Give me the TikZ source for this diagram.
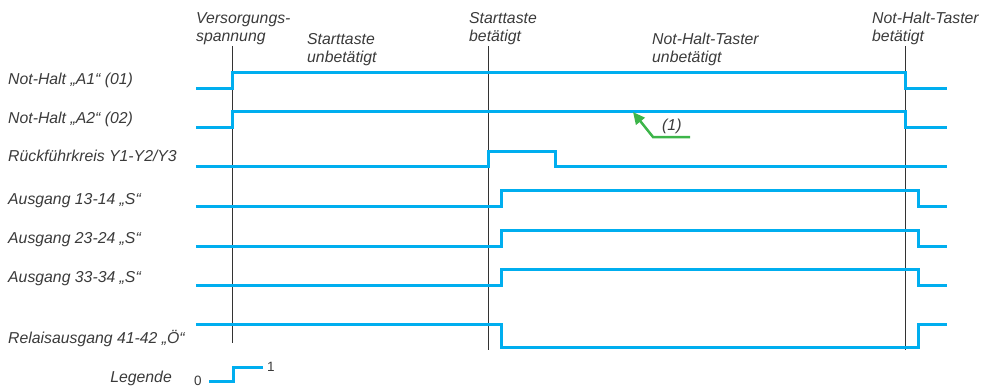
\documentclass[tikz,border=0pt]{standalone}
\usepackage{fontspec}
\setmainfont{Liberation Sans}
\usepackage{xcolor}
\usepackage{tikz}
\usetikzlibrary{arrows.meta}

\definecolor{sigblue}{HTML}{00AEEF}
\definecolor{notegreen}{HTML}{3DB54A}
\definecolor{txtgray}{HTML}{3A3A3A}

\begin{document}
\begin{tikzpicture}[x=1pt,y=-1pt,line join=miter,
    signal/.style={draw=sigblue,line width=3pt},
    marker/.style={draw=black!80,line width=0.8pt},
    pointer/.style={draw=notegreen,line width=2.5pt,-{Triangle[length=12pt,width=11pt]}},
    lbl/.style={font=\fontsize{15.8}{18}\selectfont\itshape,text=txtgray,inner sep=0pt,anchor=base west,align=left},
    digit/.style={font=\fontsize{13.5}{15}\selectfont,text=txtgray,inner sep=0pt}]
  \useasboundingbox (0,0) rectangle (982,389);
  % time markers
  \draw[marker] (232,46) -- (232,343);
  \draw[marker] (488,46) -- (488,350);
  \draw[marker] (905,46) -- (905,350);
  % phase labels (base = last line)
  \node[lbl] (supply) at (196,41) {Versorgungs-\\spannung};
  \node[lbl] (startoff) at (307,62) {Starttaste\\unbetätigt};
  \node[lbl] (starton) at (469,41) {Starttaste\\betätigt};
  \node[lbl] (stopoff) at (652,62) {Not-Halt-Taster\\unbetätigt};
  \node[lbl] (stopon) at (872,41) {Not-Halt-Taster\\betätigt};
  % signal names
  \node[lbl] (a1) at (8,84) {Not-Halt „A1“ (01)};
  \node[lbl] (a2) at (8,123) {Not-Halt „A2“ (02)};
  \node[lbl] (fb) at (8,161) {Rückführkreis Y1-Y2/Y3};
  \node[lbl] (out1) at (8,204) {Ausgang 13-14 „S“};
  \node[lbl] (out2) at (8,243) {Ausgang 23-24 „S“};
  \node[lbl] (out3) at (8,282) {Ausgang 33-34 „S“};
  \node[lbl] (relay) at (8,343) {Relaisausgang 41-42 „Ö“};
  % signals
  \draw[signal] (196,88) -- (232,88) -- (232,72) -- (905,72) -- (905,88) -- (947,88);
  \draw[signal] (196,127) -- (232,127) -- (232,111) -- (905,111) -- (905,127) -- (947,127);
  \draw[signal] (196,166) -- (488,166) -- (488,151) -- (555,151) -- (555,166) -- (947,166);
  \draw[signal] (196,206) -- (501,206) -- (501,190) -- (918,190) -- (918,206) -- (947,206);
  \draw[signal] (196,246) -- (501,246) -- (501,230) -- (918,230) -- (918,246) -- (947,246);
  \draw[signal] (196,285) -- (501,285) -- (501,269) -- (918,269) -- (918,285) -- (947,285);
  \draw[signal] (196,324) -- (501,324) -- (501,347) -- (918,347) -- (918,324) -- (947,324);
  % note (1)
  \coordinate (n1) at (690,137);
  \coordinate (n2) at (653,137);
  \coordinate (n3) at (633,112);
  \draw[pointer] (n1) -- (n2) -- (n3);
  \node[lbl] (note) at (662,130) {(1)};
  % legend
  \node[lbl,anchor=base east] (legend) at (172,382) {Legende};
  \node[digit] (lo) at (198,381) {0};
  \node[digit] (hi) at (271,367) {1};
  \draw[signal] (209,381) -- (233,381) -- (233,367) -- (263,367);
\end{tikzpicture}
\end{document}
